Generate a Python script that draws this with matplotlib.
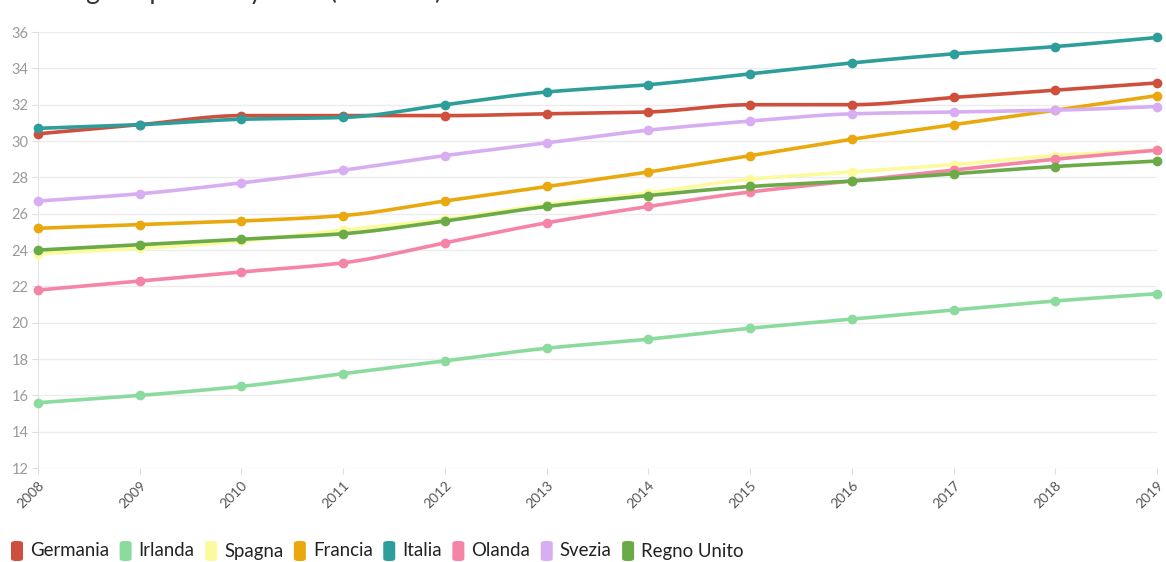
import numpy as np
import matplotlib
matplotlib.use("Agg")
import matplotlib.pyplot as plt
from matplotlib.patches import FancyBboxPatch

plt.rcParams['font.family'] = ['Lato', 'DejaVu Sans']

years = list(range(2008, 2020))

germania = [30.4, 30.9, 31.4, 31.4, 31.4, 31.5, 31.6, 32.0, 32.0, 32.4, 32.8, 33.2]
irlanda = [15.6, 16.0, 16.5, 17.2, 17.9, 18.6, 19.1, 19.7, 20.2, 20.7, 21.2, 21.6]
spagna = [23.8, 24.1, 24.5, 25.1, 25.7, 26.5, 27.15, 27.9, 28.3, 28.7, 29.2, 29.5]
francia = [25.2, 25.4, 25.6, 25.9, 26.7, 27.5, 28.3, 29.2, 30.1, 30.9, 31.7, 32.5]
italia = [30.7, 30.9, 31.2, 31.3, 32.0, 32.7, 33.1, 33.7, 34.3, 34.8, 35.2, 35.7]
olanda = [21.8, 22.3, 22.8, 23.3, 24.4, 25.5, 26.4, 27.2, 27.8, 28.4, 29.0, 29.5]
svezia = [26.7, 27.1, 27.7, 28.4, 29.2, 29.9, 30.6, 31.1, 31.5, 31.6, 31.7, 31.9]
regno_unito = [24.0, 24.3, 24.6, 24.9, 25.6, 26.4, 27.0, 27.5, 27.8, 28.2, 28.6, 28.9]

names = ["Germania", "Irlanda", "Spagna", "Francia", "Italia", "Olanda", "Svezia", "Regno Unito"]
series = [germania, irlanda, spagna, francia, italia, olanda, svezia, regno_unito]
colors = ["#cf4f3d", "#8cdb9e", "#fbfa9c", "#e9a90e", "#2e9e9b", "#f585a6", "#d8aef2", "#6aab48"]

# draw order: background series first, so the crossings look right
draw_order = [2, 1, 6, 3, 5, 7, 0, 4]


def monotone_curve(x, y, n=20):
    # Fritsch-Carlson monotone cubic, used only to draw the line smoothly
    x = np.asarray(x, float)
    y = np.asarray(y, float)
    h = np.diff(x)
    d = np.diff(y) / h
    m = np.zeros_like(y)
    m[0], m[-1] = d[0], d[-1]
    for i in range(1, len(y) - 1):
        if d[i - 1] * d[i] <= 0:
            m[i] = 0
        else:
            w1 = 2 * h[i] + h[i - 1]
            w2 = h[i] + 2 * h[i - 1]
            m[i] = (w1 + w2) / (w1 / d[i - 1] + w2 / d[i])
    xs, ys = [], []
    for i in range(len(x) - 1):
        t = np.linspace(0, 1, n, endpoint=(i == len(x) - 2))
        h00 = 2 * t**3 - 3 * t**2 + 1
        h10 = t**3 - 2 * t**2 + t
        h01 = -2 * t**3 + 3 * t**2
        h11 = t**3 - t**2
        xs.append(x[i] + t * h[i])
        ys.append(h00 * y[i] + h10 * h[i] * m[i] + h01 * y[i + 1] + h11 * h[i] * m[i + 1])
    return np.concatenate(xs), np.concatenate(ys)


W, H = 1166, 562
fig = plt.figure(figsize=(W / 100, H / 100), dpi=100)
ax = fig.add_axes([0.0326, 0.167, 0.9597, 0.776])

for i in draw_order:
    cx, cy = monotone_curve(years, series[i])
    ax.plot(cx, cy, color=colors[i], lw=2.6, solid_capstyle='round', clip_on=False, zorder=3 + i * 0.1)
    ax.plot(years, series[i], 'o', color=colors[i], ms=6, clip_on=False, zorder=3 + i * 0.1)

ax.set_xlim(2008, 2019)
ax.set_ylim(12, 36)
ax.set_yticks(range(12, 37, 2))
ax.set_xticks(years)
ax.set_xticklabels([str(y) for y in years], rotation=45, ha='right', rotation_mode='anchor')
ax.tick_params(axis='y', labelsize=10.5, labelcolor='#9a9a9a', color='#dddddd', length=4, pad=3)
ax.tick_params(axis='x', labelsize=10, labelcolor='#555555', color='#dddddd', length=4, pad=4)

ax.grid(axis='y', color='#ececec', lw=1)
ax.set_axisbelow(True)
for side in ['top', 'right', 'bottom']:
    ax.spines[side].set_visible(False)
ax.spines['left'].set_color('#e4e4e4')

# title, cropped at the top edge of the image
fig.text(0.018, 1 + 1.5 / H, "Old-age dependency ratio (Eurostat)", fontsize=19, color='#333333',
         va='baseline', ha='left')

# legend row
lx = 11
ly = 551
for name, col in zip(names, colors):
    box = FancyBboxPatch((lx / W, 1 - (ly + 10) / H), 12 / W, 20 / H,
                         boxstyle="round,pad=0,rounding_size=0.004",
                         transform=fig.transFigure, facecolor=col, edgecolor='none')
    fig.add_artist(box)
    t = fig.text((lx + 19) / W, 1 - ly / H, name, fontsize=13.4, color='#222222',
                 va='center', ha='left')
    fig.canvas.draw()
    bb = t.get_window_extent()
    lx = bb.x1 + 10.5

fig.savefig("out.png", dpi=100, facecolor='white')
